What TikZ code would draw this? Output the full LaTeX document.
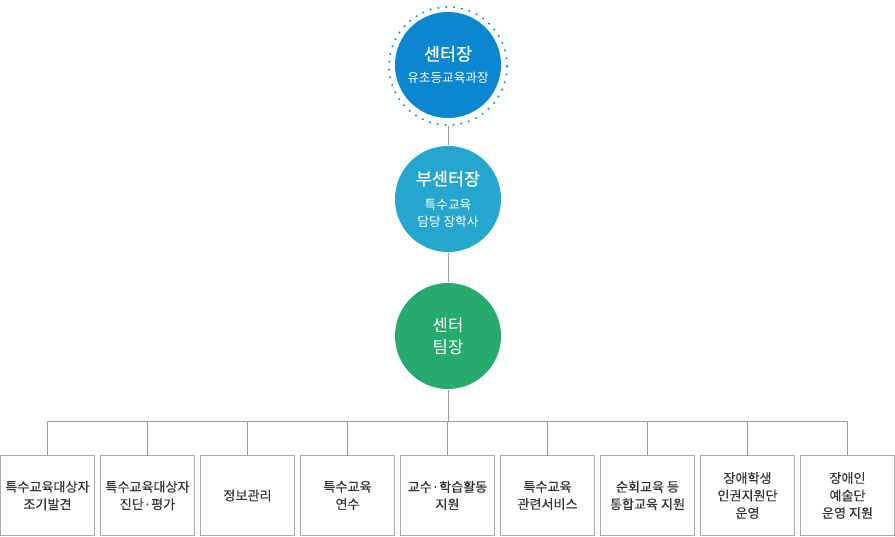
\documentclass[tikz,border=0pt]{standalone}
\usepackage{fontspec}
\setmainfont{Noto Sans CJK KR}
\newfontfamily\krbold{Noto Sans CJK KR}[FakeBold=0.5]
\newfontfamily\krmedium{Noto Sans CJK KR}[FakeBold=0.25]
\usetikzlibrary{positioning}
\definecolor{cheadblue}{HTML}{0B86D3}
\definecolor{cdeputy}{HTML}{25A6CF}
\definecolor{cteam}{HTML}{27AA6D}
\definecolor{cline}{HTML}{9A9A9A}
\definecolor{cbox}{HTML}{ABABAB}
\definecolor{ctext}{HTML}{333333}
\newcommand\bigname{\fontsize{12.4pt}{14pt}\selectfont\krbold}
\newcommand\subname{\fontsize{9pt}{11.6pt}\selectfont\normalfont}
\tikzset{
  every picture/.style={line width=0.7pt},
  orgcircle/.style={circle, fill=#1, text=white, align=center, inner sep=0pt, minimum size=2.65cm},
  orgunit/.style={draw=cbox, fill=white, align=center, text=ctext, inner sep=2pt,
    minimum width=2.35cm, minimum height=2.0cm, font=\fontsize{9.3pt}{12.4pt}\selectfont\krmedium},
  link/.style={draw=cline, line width=0.6pt},
  dotring/.style={draw=cheadblue, line width=1.6pt, line cap=round, dash pattern=on 0pt off 5.6pt},
}
\begin{document}
\begin{tikzpicture}[x=0.025cm, y=-0.025cm]
  \useasboundingbox (0,0) rectangle (895,537);
  % head of center, with dotted ring
  \node[circle, dotring, minimum size=2.95cm, inner sep=0pt] (ring) at (448,66) {};
  \node[orgcircle=cheadblue] (head) at (448,65)
    {\bigname 센터장\\[4pt]\subname 유초등교육과장};
  \node[orgcircle=cdeputy] (deputy) at (448,199)
    {\bigname 부센터장\\[5pt]\subname 특수교육\\\subname 담당 장학사};
  \node[orgcircle=cteam, font=\fontsize{11.8pt}{15.5pt}\selectfont] (team) at (448,336) {센터\\팀장};
  \draw[link] (ring) -- (deputy);
  \draw[link] (deputy) -- (team);
  % units
  \node[orgunit] (u1) at (47.5,495.5) {특수교육대상자\\조기발견};
  \node[orgunit] (u2) at (147.5,495.5) {특수교육대상자\\진단·평가};
  \node[orgunit] (u3) at (247.5,495.5) {정보관리};
  \node[orgunit] (u4) at (347.5,495.5) {특수교육\\연수};
  \node[orgunit] (u5) at (447.5,495.5) {교수·학습활동\\지원};
  \node[orgunit] (u6) at (547.5,495.5) {특수교육\\관련서비스};
  \node[orgunit] (u7) at (647.5,495.5) {순회교육 등\\통합교육 지원};
  \node[orgunit] (u8) at (747.5,495.5) {장애학생\\인권지원단\\운영};
  \node[orgunit] (u9) at (847.5,495.5) {장애인\\예술단\\운영 지원};
  \coordinate (hub) at (448,421);
  \draw[link] (team) -- (hub);
  \foreach \u in {u1,u2,u3,u4,u5,u6,u7,u8,u9}
    \draw[link] (hub) -| (\u.north);
\end{tikzpicture}
\end{document}
